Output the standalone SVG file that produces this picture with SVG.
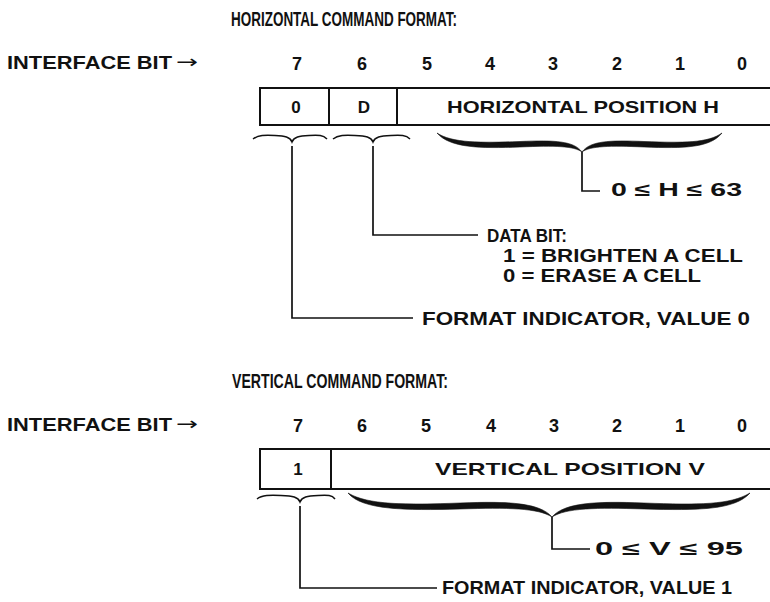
<svg xmlns="http://www.w3.org/2000/svg" width="770" height="602" viewBox="0 0 770 602">
<style>
text{font-family:"Liberation Sans",Arial,sans-serif;font-weight:bold;fill:#111;font-size:18px}
.m{text-anchor:middle}
.t{font-size:20px}
.c{font-size:17px}
.ar{font-family:"DejaVu Sans",sans-serif;font-weight:normal;font-size:18px}
.box{fill:none;stroke:#111;stroke-width:2}
.ln{fill:none;stroke:#111;stroke-width:1.7}
.br{fill:none;stroke:#111;stroke-width:1.5}
.bb{fill:#111;stroke:#111;stroke-width:0.6}
</style>
<rect width="770" height="602" fill="#fff"/>

<g id="horizontal-format">
<text x="231" y="26" class="t" textLength="226" lengthAdjust="spacingAndGlyphs">HORIZONTAL COMMAND FORMAT:</text>
<text x="7" y="69" textLength="165" lengthAdjust="spacingAndGlyphs">INTERFACE BIT</text>
<text x="176" y="68" class="ar" textLength="22" lengthAdjust="spacingAndGlyphs">→</text>
<text x="297" y="70" class="m">7</text><text x="362" y="70" class="m">6</text><text x="427" y="70" class="m">5</text><text x="490" y="70" class="m">4</text><text x="553" y="70" class="m">3</text><text x="617" y="70" class="m">2</text><text x="680" y="70" class="m">1</text><text x="742" y="70" class="m">0</text>
</g>

<g id="h-box">
<path class="box" d="M771,88 H260 V125 H771 M329,88 V125 M397,88 V125"/>
<text x="296" y="113" class="m c">0</text>
<text x="364" y="113" class="m c">D</text>
<text x="583" y="113" class="m c" textLength="272" lengthAdjust="spacingAndGlyphs">HORIZONTAL POSITION H</text>
</g>

<g id="h-braces">
<path class="br" d="M253,139 C258,135 265,135 275,135.5 C285,136 290,137 292,142 C294,137 299,136 309,135.5 C319,135 323,135 327,139"/>
<path class="br" d="M333,139 C338,135 345,135 355,135.5 C366,136 371,137 373,142 C375,137 380,136 391,135.5 C401,135 406,135 410,139"/>
<path class="bb" d="M437,133 C452,143 480,143 520,141.5 C555,140 574,141 582,152 C590,141 609,140 644,141.5 C684,143 708,143 722,133 C710,148 684,148.5 644,147 C610,145.5 590,146 582,152 C574,146 555,145.5 520,147 C480,148.5 450,148 437,133 Z"/>
</g>

<g id="h-labels">
<text x="611" y="196" textLength="131" lengthAdjust="spacingAndGlyphs">0  ≤  H  ≤  63</text>
<text x="487" y="242" textLength="80" lengthAdjust="spacingAndGlyphs">DATA BIT:</text>
<text x="503" y="262" textLength="240" lengthAdjust="spacingAndGlyphs">1 =  BRIGHTEN A CELL</text>
<text x="503" y="282" textLength="198" lengthAdjust="spacingAndGlyphs">0 =  ERASE A CELL</text>
<text x="422" y="325" textLength="328" lengthAdjust="spacingAndGlyphs">FORMAT INDICATOR, VALUE 0</text>
</g>

<g id="vertical-format">
<text x="232" y="388" class="t" textLength="216" lengthAdjust="spacingAndGlyphs">VERTICAL COMMAND FORMAT:</text>
<text x="7" y="431" textLength="165" lengthAdjust="spacingAndGlyphs">INTERFACE BIT</text>
<text x="176" y="430" class="ar" textLength="22" lengthAdjust="spacingAndGlyphs">→</text>
<text x="298" y="432" class="m">7</text><text x="362" y="432" class="m">6</text><text x="426" y="432" class="m">5</text><text x="491" y="432" class="m">4</text><text x="554" y="432" class="m">3</text><text x="617" y="432" class="m">2</text><text x="680" y="432" class="m">1</text><text x="742" y="432" class="m">0</text>
</g>

<g id="v-box">
<path class="box" d="M771,449 H260 V489 H771 M331,449 V489"/>
<text x="298" y="475" class="m c">1</text>
<text x="570" y="475" class="m c" textLength="270" lengthAdjust="spacingAndGlyphs">VERTICAL POSITION V</text>
</g>

<g id="v-braces">
<path class="br" d="M257,499 C262,495 270,495 281,495.5 C293,496 298,497 300,502 C302,497 307,496 318,495.5 C328,495 332,495 335,499"/>
<path class="bb" d="M348,493 C368,505 405,505 460,503 C510,501 540,503 552,517 C564,503 594,501 644,503 C699,505 730,505 750,493 C735,510 699,510.5 644,509 C596,507.5 566,508 552,517 C538,508 508,507.5 460,509 C405,510.5 362,510 348,493 Z"/>
</g>

<g id="v-labels">
<text x="595" y="555" textLength="148" lengthAdjust="spacingAndGlyphs">0  ≤  V  ≤  95</text>
<text x="442" y="594" textLength="290" lengthAdjust="spacingAndGlyphs">FORMAT INDICATOR, VALUE 1</text>
</g>

<g id="connectors">
<path class="ln" d="M292,146 V318 H413"/>
<path class="ln" d="M373,146 V235 H478"/>
<path class="ln" d="M582,152 V191 H600"/>
<path class="ln" d="M300,506 V588 H437"/>
<path class="ln" d="M552,517 V549 H590"/>
</g>
</svg>
